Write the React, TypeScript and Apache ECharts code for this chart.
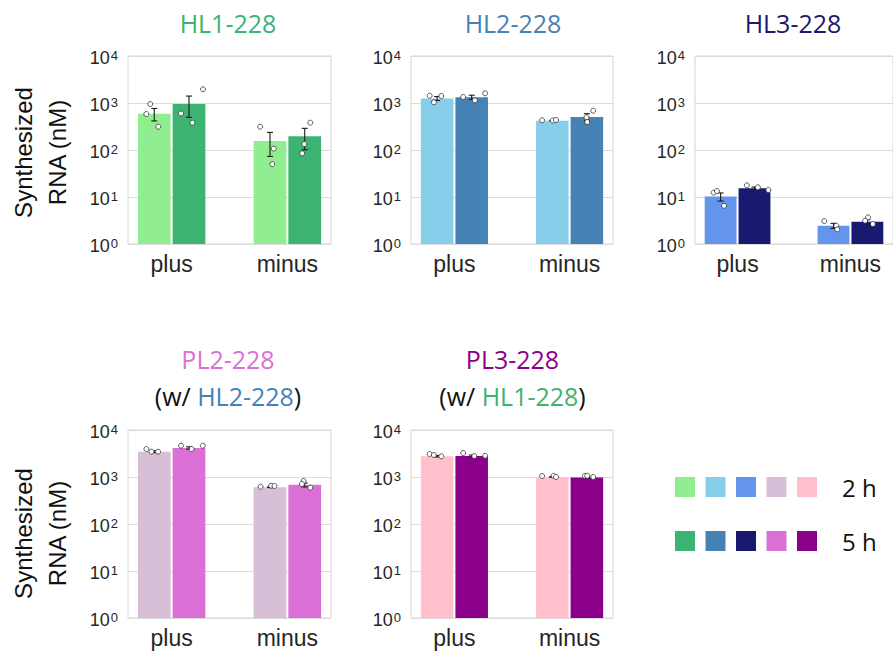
import React, { useEffect, useRef } from 'react';
import * as echarts from 'echarts';

// ---------- data ----------
const categories = ['plus', 'minus'];
const timeLabels = ['2 h', '5 h'];
const panelTitles = ['HL1-228', 'HL2-228', 'HL3-228', 'PL2-228', 'PL3-228'];
const partnerTitles = ['', '', '', 'HL2-228', 'HL1-228'];
const partnerIndex = [-1, -1, -1, 1, 0];
const lightColors = ['#90EE90', '#87CEEB', '#6495ED', '#D8BFD8', '#FFC0CB'];
const darkColors = ['#3CB371', '#4682B4', '#191970', '#DA70D6', '#8B008B'];
const yAxisTitle = 'Synthesized\nRNA (nM)';

// means [category][time]
const hl1Mean = [[590, 950], [155, 195]];
const hl1Se = [[175, 455], [82, 94]];
const hl1Points = [[[950, 583, 313], [600, 381, 1960]], [[313, 107, 50], [381, 134, 85]]];
const hl1Jitter = [[[-0.035, -0.069, 0.035], [-0.069, 0.029, 0.121]], [[-0.085, 0.033, 0.019], [0.048, -0.004, -0.022]]];

const hl2Mean = [[1250, 1330], [420, 505]];
const hl2Se = [[120, 135], [5, 88]];
const hl2Points = [[[1430, 1035, 1409], [1342, 1141, 1607]], [[430, 425, 435], [686, 496, 394]]];
const hl2Jitter = [[[-0.065, -0.028, 0.036], [-0.074, 0.028, 0.117]], [[-0.089, 0.003, 0.032], [0.055, -0.003, 0.003]]];

const hl3Mean = [[10.2, 15.3], [2.45, 2.98]];
const hl3Se = [[2.0, 1.0], [0.3, 0.3]];
const hl3Points = [[[12.4, 13.4, 6.5], [17.7, 16.1, 14.1]], [[3.08, 2.45, 2.05], [3.69, 3.13, 2.66]]];
const hl3Jitter = [[[-0.062, -0.033, 0.03], [-0.068, 0.03, 0.123]], [[-0.082, 0.024, 0.033], [0.006, -0.02, 0.049]]];

const pl2Mean = [[3450, 4150], [605, 680]];
const pl2Se = [[160, 230], [10, 66]];
const pl2Points = [[[3944, 3453, 3453], [4634, 3944, 4634]], [[622, 653, 645], [822, 709, 593]]];
const pl2Jitter = [[[-0.068, -0.024, 0.033], [-0.069, 0.023, 0.119]], [[-0.082, 0.01, 0.039], [-0.01, -0.024, 0.048]]];

const pl3Mean = [[2760, 2790], [1000, 975]];
const pl3Se = [[95, 145], [18, 20]];
const pl3Points = [[[3085, 2938, 2757], [3243, 2790, 2830]], [[1050, 1060, 1000], [1060, 1060, 1000]]];
const pl3Jitter = [[[-0.065, -0.028, 0.036], [-0.074, 0.022, 0.117]], [[-0.089, 0.011, 0.032], [-0.017, 0.003, 0.055]]];

const panelMeans = [hl1Mean, hl2Mean, hl3Mean, pl2Mean, pl3Mean];
const panelSes = [hl1Se, hl2Se, hl3Se, pl2Se, pl3Se];
const panelPoints = [hl1Points, hl2Points, hl3Points, pl2Points, pl3Points];
const panelJitter = [hl1Jitter, hl2Jitter, hl3Jitter, pl2Jitter, pl3Jitter];

// ---------- layout ----------
const frames = [
  { left: 128, top: 56, width: 203, height: 188 },
  { left: 411, top: 56, width: 202, height: 188 },
  { left: 695, top: 56, width: 202, height: 188 },
  { left: 128, top: 430, width: 203, height: 188 },
  { left: 411, top: 430, width: 202, height: 188 },
];
const titleX = [228, 513, 793, 228, 512.5];
const BAR_W = 0.3;
const AXIS_FONT = "'Liberation Sans', Arial, sans-serif";
const TITLE_FONT = "'Open Sans', 'Noto Sans', sans-serif";
const TEXT_COLOR = '#262626';

function buildOption() {
  const grid: any[] = [];
  const xAxis: any[] = [];
  const yAxis: any[] = [];
  const series: any[] = [];
  const graphic: any[] = [];

  frames.forEach((f, i) => {
    grid.push({ ...f, show: true, borderColor: '#d6d6d6', borderWidth: 1, backgroundColor: '#ffffff' });
    xAxis.push({
      type: 'value', gridIndex: i, min: -0.377, max: 1.377,
      axisLine: { show: false }, axisTick: { show: false }, splitLine: { show: false },
      axisLabel: {
        customValues: [0, 1],
        margin: 8,
        fontSize: 23,
        fontFamily: AXIS_FONT,
        color: TEXT_COLOR,
        formatter: (v: number) => {
          const k = Math.round(v);
          return Math.abs(v - k) < 1e-6 && categories[k] ? categories[k] : '';
        },
      },
    });
    yAxis.push({
      type: 'log', logBase: 10, gridIndex: i, min: 1, max: 10000, interval: 1,
      axisLine: { show: false }, axisTick: { show: false },
      splitLine: { show: true, lineStyle: { color: '#dcdcdc', width: 1 } },
      axisLabel: {
        margin: 10,
        padding: [4, 0, 0, 0],
        formatter: (v: number) => `{b|10}{s|${Math.round(Math.log10(v))}}`,
        rich: {
          b: { fontSize: 18, lineHeight: 18, fontFamily: AXIS_FONT, color: TEXT_COLOR, verticalAlign: 'bottom' },
          s: { fontSize: 13, lineHeight: 13, fontFamily: AXIS_FONT, color: TEXT_COLOR, verticalAlign: 'top', padding: [0, 0, 13, 1] },
        },
      },
    });

    const mean = panelMeans[i];
    const se = panelSes[i];
    const pts = panelPoints[i];
    const jit = panelJitter[i];
    const light = lightColors[i];
    const dark = darkColors[i];

    const barData: number[][] = [];
    const errData: number[][] = [];
    const ptData: number[][] = [];
    categories.forEach((_, g) => {
      timeLabels.forEach((__, t) => {
        barData.push([g, t, mean[g][t]]);
        errData.push([g, t, mean[g][t], se[g][t]]);
        pts[g][t].forEach((v, k) => {
          ptData.push([g + (t - 0.5) * BAR_W + jit[g][t][k], v]);
        });
      });
    });

    series.push({
      type: 'custom', xAxisIndex: i, yAxisIndex: i, data: barData, encode: { x: 0, y: 2 }, z: 2,
      renderItem: (params: any, api: any) => {
        const g = api.value(0), t = api.value(1), v = api.value(2);
        const x0 = g - BAR_W + t * BAR_W;
        const p0 = api.coord([x0, v]);
        const p1 = api.coord([x0 + BAR_W, 1]);
        return {
          type: 'rect',
          shape: { x: p0[0] + 1, y: p0[1], width: p1[0] - p0[0] - 2, height: p1[1] - p0[1] },
          style: { fill: t === 0 ? light : dark },
        };
      },
    });
    series.push({
      type: 'custom', xAxisIndex: i, yAxisIndex: i, data: errData, encode: { x: 0, y: 2 }, z: 3,
      renderItem: (params: any, api: any) => {
        const g = api.value(0), t = api.value(1), m = api.value(2), s = api.value(3);
        const xc = g + (t - 0.5) * BAR_W;
        const top = api.coord([xc, m + s]);
        const bot = api.coord([xc, Math.max(m - s, 1e-3)]);
        const cap = 3;
        const st = { stroke: '#1a1a1a', lineWidth: 1.1 };
        return {
          type: 'group',
          children: [
            { type: 'line', shape: { x1: top[0], y1: top[1], x2: bot[0], y2: bot[1] }, style: st },
            { type: 'line', shape: { x1: top[0] - cap, y1: top[1], x2: top[0] + cap, y2: top[1] }, style: st },
            { type: 'line', shape: { x1: bot[0] - cap, y1: bot[1], x2: bot[0] + cap, y2: bot[1] }, style: st },
          ],
        };
      },
    });
    series.push({
      type: 'scatter', xAxisIndex: i, yAxisIndex: i, data: ptData, z: 4,
      symbol: 'circle', symbolSize: 5,
      itemStyle: { color: '#ffffff', borderColor: '#333333', borderWidth: 0.8, opacity: 1 },
    });

    // titles
    if (i < 3) {
      graphic.push({
        type: 'text', x: titleX[i], y: 23,
        style: { text: panelTitles[i], fontSize: 25, fontFamily: TITLE_FONT, fill: dark, align: 'center', verticalAlign: 'middle' },
      });
    } else {
      graphic.push({
        type: 'text', x: titleX[i], y: 359,
        style: { text: panelTitles[i], fontSize: 25, fontFamily: TITLE_FONT, fill: dark, align: 'center', verticalAlign: 'middle' },
      });
      graphic.push({
        type: 'text', x: titleX[i], y: 396,
        style: {
          text: `{k|(w/ }{c|${partnerTitles[i]}}{k|)}`,
          fontSize: 25, fontFamily: TITLE_FONT, align: 'center', verticalAlign: 'middle',
          rich: {
            k: { fontSize: 25, fontFamily: TITLE_FONT, fill: '#111111' },
            c: { fontSize: 25, fontFamily: TITLE_FONT, fill: darkColors[partnerIndex[i]] },
          },
        },
      });
    }
  });

  // y-axis titles
  [152.5, 533.5].forEach((cy) => {
    graphic.push({
      type: 'text', x: 40, y: cy, rotation: Math.PI / 2,
      style: { text: yAxisTitle, fontSize: 24, lineHeight: 34, fontFamily: AXIS_FONT, fill: '#111111', align: 'center', verticalAlign: 'middle' },
    });
  });

  // legend
  lightColors.forEach((c, k) => {
    graphic.push({ type: 'rect', x: 675 + k * 30.5, y: 477, shape: { x: 0, y: 0, width: 20, height: 20 }, style: { fill: c } });
    graphic.push({ type: 'rect', x: 675 + k * 30.5, y: 531, shape: { x: 0, y: 0, width: 20, height: 20 }, style: { fill: darkColors[k] } });
  });
  timeLabels.forEach((lab, t) => {
    graphic.push({
      type: 'text', x: 842, y: 487 + t * 54,
      style: { text: lab, fontSize: 24, fontFamily: TITLE_FONT, fill: '#111111', align: 'left', verticalAlign: 'middle' },
    });
  });

  return { animation: false, backgroundColor: '#ffffff', grid, xAxis, yAxis, series, graphic };
}

export default function App() {
  const ref = useRef<HTMLDivElement>(null);
  useEffect(() => {
    if (!ref.current) return;
    const chart = echarts.init(ref.current, undefined, { renderer: 'svg' });
    chart.setOption(buildOption() as any);
    return () => chart.dispose();
  }, []);
  return <div ref={ref} style={{ position: 'absolute', left: 0, top: 0, width: 893, height: 652 }} />;
}
